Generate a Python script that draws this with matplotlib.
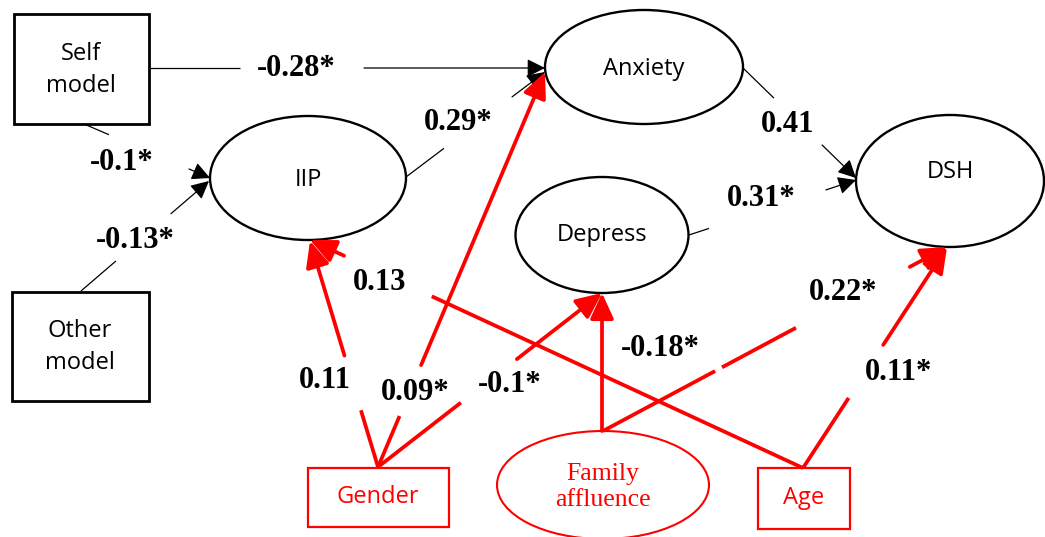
import matplotlib
matplotlib.use("Agg")
from matplotlib import pyplot as plt
from matplotlib.patches import Ellipse, Rectangle, FancyArrowPatch

# path model: nodes and standardised coefficients
nodes = ["Self\nmodel", "Other\nmodel", "IIP", "Anxiety", "Depress", "DSH",
         "Gender", "Family\naffluence", "Age"]
edge_from = ["Self\nmodel", "IIP", "Self\nmodel", "Other\nmodel", "Anxiety", "Depress",
             "Gender", "Gender", "Gender", "Family\naffluence", "Family\naffluence", "Age", "Age"]
edge_to = ["Anxiety", "Anxiety", "IIP", "IIP", "DSH", "DSH",
           "IIP", "Anxiety", "Depress", "Depress", "DSH", "IIP", "DSH"]
coef = ["-0.28*", "0.29*", "-0.1*", "-0.13*", "0.41", "0.31*",
        "0.11", "0.09*", "-0.1*", "-0.18*", "0.22*", "0.13", "0.11*"]

# layout (pixel coords, y down)
node_layout = {
    "Self\nmodel": ("box", 81, 69, 135, 110, "black"),
    "Other\nmodel": ("box", 80, 346, 137, 109, "black"),
    "IIP": ("ell", 308, 178, 196, 124, "black"),
    "Anxiety": ("ell", 644, 67, 198, 114, "black"),
    "Depress": ("ell", 602, 235, 173, 116, "black"),
    "DSH": ("ell", 950, 181, 188, 132, "black"),
    "Gender": ("box", 378, 497, 141, 59, "red"),
    "Family\naffluence": ("ell", 603, 485, 212, 108, "red"),
    "Age": ("box", 804, 498, 92, 61, "red"),
}
text_offset = {"DSH": -9, "IIP": 2, "Anxiety": 2, "Self\nmodel": 1, "Other\nmodel": 1}

# start, end, gaps (fractions along line), label position
edge_layout = [
    ((149, 68), (545, 68), [(0.23, 0.543)], (296, 68)),
    ((406, 177), (545, 72), [(0.273, 0.763)], (458, 123)),
    ((84, 124), (210, 178), [(0.198, 0.833)], (122, 163)),
    ((81, 291), (209, 181), [(0.273, 0.703)], (135, 240)),
    ((743, 68), (856, 178), [(0.274, 0.70)], (788, 125)),
    ((689, 235), (856, 180), [(0.12, 0.82)], (761, 198)),
    ((378, 467), (310, 241), [(0.251, 0.493)], (325, 381)),
    ((378, 467), (545, 72), [(0.129, 0.258)], (415, 393)),
    ((378, 467), (602, 293), [(0.37, 0.62)], (510, 385)),
    ((602, 431), (602, 293), [], (660, 348)),
    ((603, 431), (947, 247), [(0.326, 0.346), (0.561, 0.892)], (843, 293)),
    ((803, 468), (310, 240), [(0.753, 0.931)], (380, 282)),
    ((803, 468), (947, 247), [(0.317, 0.557)], (899, 373)),
]

fig = plt.figure(figsize=(10.45, 5.37), dpi=100)
ax = fig.add_axes([0, 0, 1, 1])
ax.set_xlim(0, 1045)
ax.set_ylim(537, 0)
ax.axis("off")

for name in nodes:
    shape, cx, cy, w, h, col = node_layout[name]
    if shape == "box":
        p = Rectangle((cx - w / 2, cy - h / 2), w, h, facecolor="white",
                      edgecolor=col, lw=2.0 if col == "black" else 1.6, zorder=1)
    else:
        p = Ellipse((cx, cy), w, h, facecolor="white", edgecolor=col,
                    lw=1.7 if col == "black" else 1.5, zorder=1)
    ax.add_patch(p)
    if name == "Family\naffluence":
        ax.text(cx, cy + 2, name, ha="center", va="center", color=col,
                family="Liberation Serif", fontsize=18.5, linespacing=1.2, zorder=4)
    else:
        ax.text(cx, cy + text_offset.get(name, 0), name, ha="center", va="center",
                color=col, family="Open Sans", fontsize=17, linespacing=1.45, zorder=4)

for i in range(len(coef)):
    (x0, y0), (x1, y1), gaps, (lx, ly) = edge_layout[i]
    red = node_layout[edge_from[i]][5] == "red"
    col = "red" if red else "black"
    lw = 2.7 if red else 0.9
    cuts = [0.0]
    for g0, g1 in gaps:
        cuts += [g0, g1]
    cuts.append(1.0)
    segs = [(cuts[k], cuts[k + 1]) for k in range(0, len(cuts), 2)]
    for k, (a, b) in enumerate(segs):
        pa = (x0 + a * (x1 - x0), y0 + a * (y1 - y0))
        pb = (x0 + b * (x1 - x0), y0 + b * (y1 - y0))
        if k == len(segs) - 1:
            if red:
                style = "-|>,head_length=1.2,head_width=0.55"
                ms = 13
            else:
                style = "-|>,head_length=1.1,head_width=0.55"
                ms = 10
            ax.add_patch(FancyArrowPatch(pa, pb, arrowstyle=style, mutation_scale=ms,
                                         color=col, lw=lw, shrinkA=0, shrinkB=0, zorder=2))
        else:
            ax.plot([pa[0], pb[0]], [pa[1], pb[1]], color=col, lw=lw,
                    solid_capstyle="butt", zorder=2)
    ax.text(lx, ly, coef[i], ha="center", va="center", family="Liberation Serif",
            fontweight="bold", fontsize=22, zorder=4)

plt.savefig("out.png", dpi=100)
